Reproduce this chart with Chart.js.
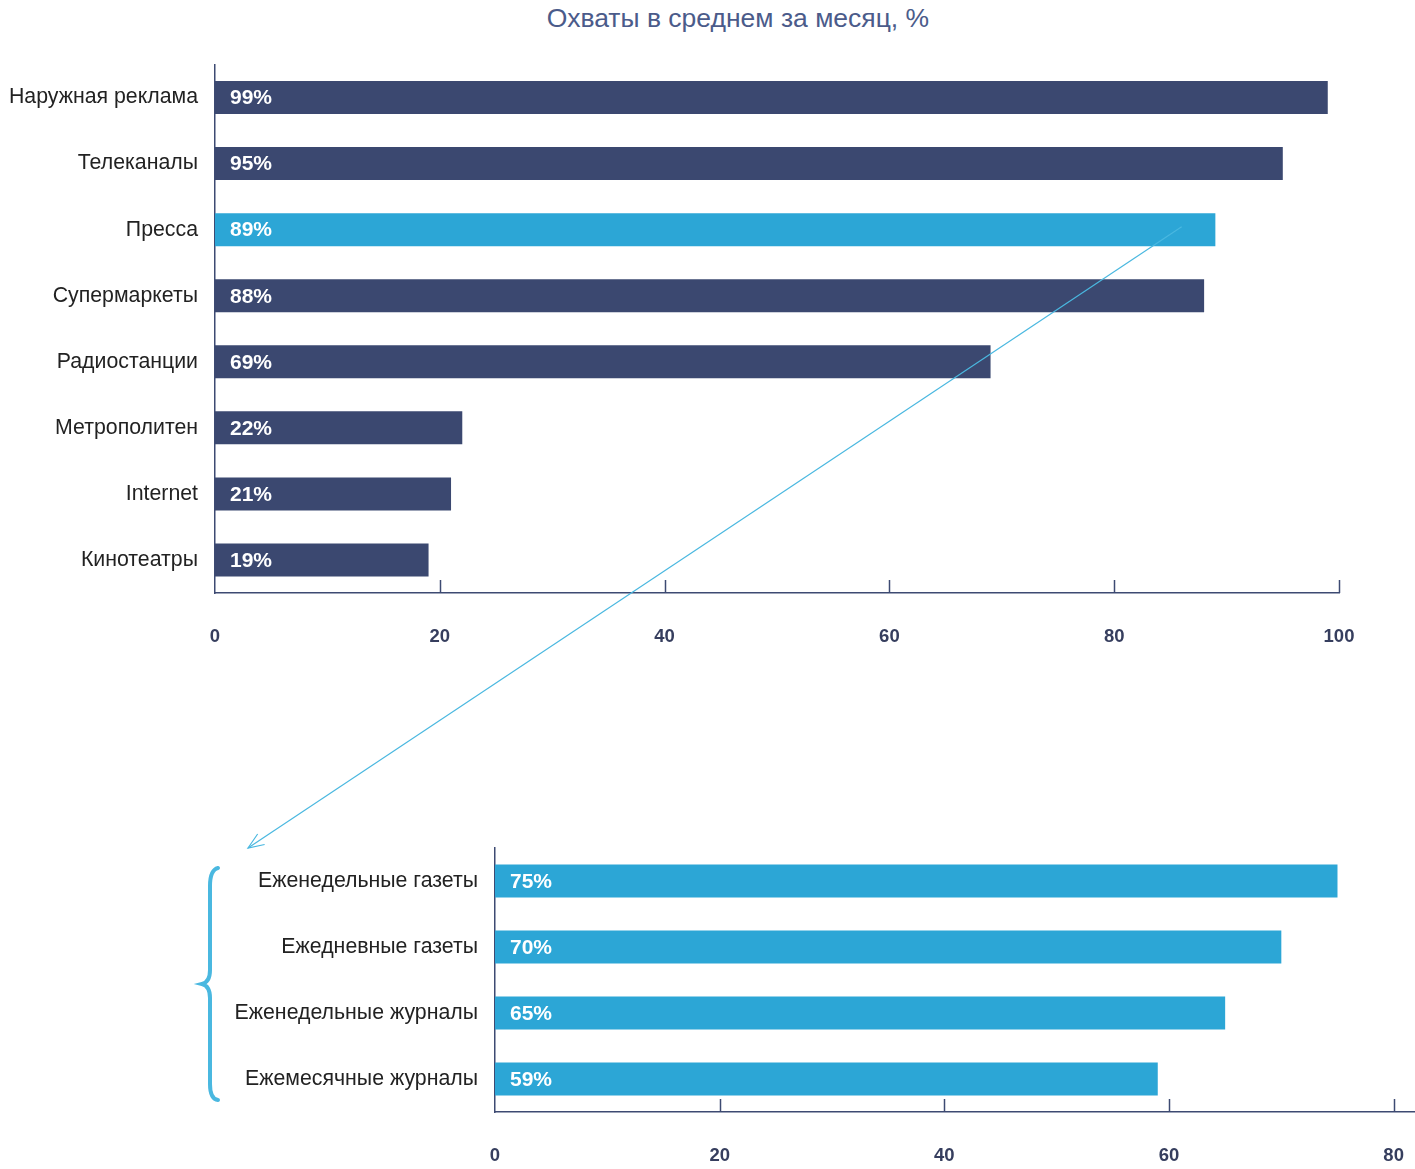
<!DOCTYPE html>
<html>
<head>
<meta charset="utf-8">
<script src="https://cdn.jsdelivr.net/npm/chart.js@4/dist/chart.umd.min.js"></script>
<style>
  body { margin: 0; background: #fff; overflow: hidden; }
  #wrap { position: relative; width: 1415px; height: 1169px; }
  #wrap canvas { position: absolute; left: 0; }
  #title {
    position: absolute; left: 488px; width: 500px; top: 3px;
    text-align: center; font: 26.5px Arial, "Liberation Sans", sans-serif; color: #4b5b8a;
  }
</style>
</head>
<body>
<div id="wrap">
  <div id="title">Охваты в среднем за месяц, %</div>
  <canvas id="top" width="1415" height="680" style="top:0"></canvas>
  <canvas id="bottom" width="1415" height="389" style="top:780px"></canvas>
  <canvas id="overlay" width="1415" height="1169" style="top:0;pointer-events:none"></canvas>
</div>
<script>
// media reach, % (top chart)
var mediaLabels = ['Наружная реклама', 'Телеканалы', 'Пресса', 'Супермаркеты', 'Радиостанции', 'Метрополитен', 'Internet', 'Кинотеатры'];
var mediaValues = [99, 95, 89, 88, 69, 22, 21, 19];

// press breakdown (bottom chart)
var pressLabels = ['Еженедельные газеты', 'Ежедневные газеты', 'Еженедельные журналы', 'Ежемесячные журналы'];
var pressValues = [75, 70, 65, 59];

var xTicksTop = [0, 20, 40, 60, 80, 100];
var xTicksBottom = [0, 20, 40, 60, 80];

var DARK = '#3b4870';
var BLUE = '#2ca6d6';
var AXIS = '#3d4a72';
var FONT = 'Arial, "Liberation Sans", sans-serif';

// white value labels inside bars
var barLabels = {
  id: 'barLabels',
  afterDatasetsDraw: function (chart) {
    var ctx = chart.ctx;
    var ds = chart.data.datasets[0];
    ctx.save();
    ctx.font = 'bold 21px ' + FONT;
    ctx.fillStyle = '#fff';
    ctx.textBaseline = 'middle';
    chart.getDatasetMeta(0).data.forEach(function (bar, i) {
      ctx.fillText(ds.data[i] + '%', bar.base + 15, bar.y + 1);
    });
    ctx.restore();
  }
};

// small tick marks pointing up from the x axis
var innerTicks = {
  id: 'innerTicks',
  afterDraw: function (chart) {
    var ctx = chart.ctx;
    var xs = chart.scales.x;
    var bottom = chart.chartArea.bottom;
    ctx.save();
    ctx.strokeStyle = AXIS;
    ctx.lineWidth = 1.5;
    xs.ticks.forEach(function (t) {
      if (t.value === 0) return;
      var px = Math.round(xs.getPixelForValue(t.value)) + 0.5;
      ctx.beginPath();
      ctx.moveTo(px, bottom - 13);
      ctx.lineTo(px, bottom);
      ctx.stroke();
    });
    ctx.restore();
  }
};

function makeChart(id, labels, values, colours, opts) {
  return new Chart(document.getElementById(id), {
    type: 'bar',
    data: {
      labels: labels,
      datasets: [{
        data: values,
        backgroundColor: colours,
        barPercentage: 0.5,
        categoryPercentage: 1
      }]
    },
    options: {
      indexAxis: 'y',
      responsive: false,
      animation: false,
      layout: { padding: opts.padding },
      plugins: { legend: { display: false }, tooltip: { enabled: false } },
      scales: {
        x: {
          min: 0,
          max: opts.max,
          grid: { display: false },
          border: { display: true, color: AXIS, width: 1.5 },
          afterBuildTicks: function (scale) {
            scale.ticks = opts.ticks.map(function (v) { return { value: v }; });
          },
          afterFit: function (scale) {
            scale.height = opts.xHeight;
            scale.paddingLeft = 0;
            scale.paddingRight = 0;
          },
          ticks: {
            padding: 25,
            maxRotation: 0,
            color: '#363e5e',
            font: { family: FONT, size: 18.5, weight: 'bold' }
          }
        },
        y: {
          grid: { display: false },
          border: { display: true, color: AXIS, width: 1.5 },
          afterFit: function (scale) {
            scale.width = opts.yWidth;
            scale.paddingTop = 0;
            scale.paddingBottom = 0;
          },
          ticks: {
            padding: 9,
            color: '#222',
            font: { family: FONT, size: 21.3 }
          }
        }
      }
    },
    plugins: [barLabels, innerTicks]
  });
}

var topColours = mediaLabels.map(function (l) { return l === 'Пресса' ? BLUE : DARK; });
var topChart = makeChart('top', mediaLabels, mediaValues, topColours, {
  max: 100, ticks: xTicksTop, padding: { top: 64.5, right: 76, left: 0, bottom: 0 },
  xHeight: 87, yWidth: 215
});

var bottomChart = makeChart('bottom', pressLabels, pressValues, BLUE, {
  max: 81.9, ticks: xTicksBottom, padding: { top: 68, right: 0, left: 0, bottom: 0 },
  xHeight: 57, yWidth: 495
});

// arrow from the press bar to the breakdown, plus the brace
(function () {
  var ctx = document.getElementById('overlay').getContext('2d');
  var bTop = 780;
  var x1 = topChart.scales.x.getPixelForValue(86);
  var y1 = topChart.scales.y.getPixelForValue(2) - 3;
  var ca = bottomChart.chartArea;
  var x2 = ca.left - 247;
  var y2 = bTop + ca.top;

  ctx.strokeStyle = '#4ab8e0';
  ctx.lineWidth = 1.2;
  ctx.beginPath();
  ctx.moveTo(x1, y1);
  ctx.lineTo(x2, y2);
  ctx.stroke();

  var ang = Math.atan2(y1 - y2, x1 - x2);
  var len = 17, spread = 0.38;
  ctx.beginPath();
  ctx.moveTo(x2 + len * Math.cos(ang - spread), y2 + len * Math.sin(ang - spread));
  ctx.lineTo(x2, y2);
  ctx.lineTo(x2 + len * Math.cos(ang + spread), y2 + len * Math.sin(ang + spread));
  ctx.stroke();

  // curly brace
  var bx = 210, t = 868, b = 1100, mid = 984;
  ctx.strokeStyle = '#4ab8e0';
  ctx.lineWidth = 4;
  ctx.lineCap = 'round';
  ctx.beginPath();
  ctx.moveTo(bx + 8, t);
  ctx.quadraticCurveTo(bx, t + 2, bx, t + 18);
  ctx.lineTo(bx, mid - 14);
  ctx.quadraticCurveTo(bx, mid - 2, bx - 8, mid);
  ctx.quadraticCurveTo(bx, mid + 2, bx, mid + 14);
  ctx.lineTo(bx, b - 16);
  ctx.quadraticCurveTo(bx, b - 1, bx + 8, b);
  ctx.stroke();
})();
</script>
</body>
</html>
